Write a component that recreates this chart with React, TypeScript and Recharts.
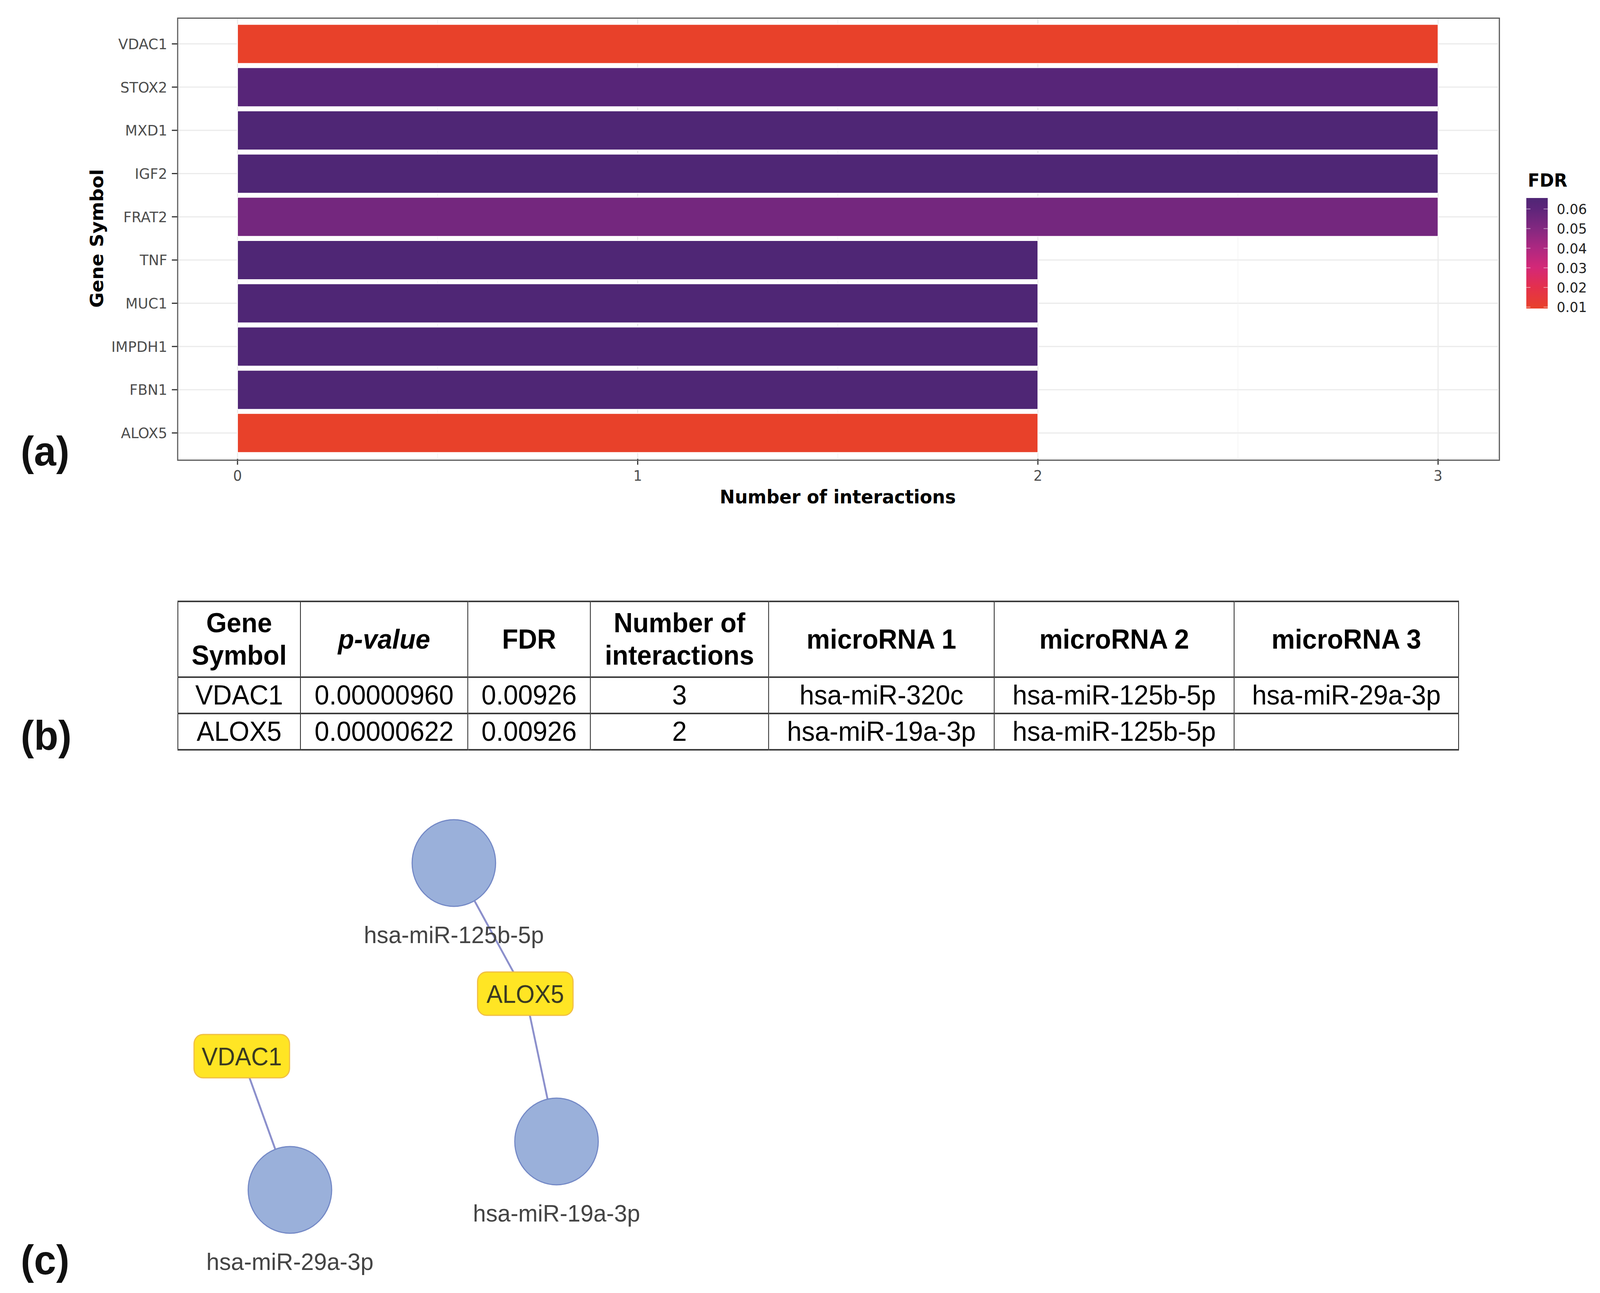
import React from 'react';
import { BarChart, Bar, XAxis, YAxis, CartesianGrid, Cell, ScatterChart, Scatter } from 'recharts';

// panel (a): genes, number of interactions, FDR
const genes = ['VDAC1', 'STOX2', 'MXD1', 'IGF2', 'FRAT2', 'TNF', 'MUC1', 'IMPDH1', 'FBN1', 'ALOX5'];
const interactions = [3, 3, 3, 3, 3, 2, 2, 2, 2, 2];
const fdr = [0.00926, 0.0625, 0.0656, 0.0656, 0.054, 0.0656, 0.0656, 0.0656, 0.0656, 0.00926];
const xTicks = [0, 1, 2, 3];
const xMinorTicks = [0.5, 1.5, 2.5];
const legendTicks = [0.01, 0.02, 0.03, 0.04, 0.05, 0.06];

// FDR colour scale
const scaleStops = [0.00926, 0.02, 0.03, 0.04, 0.05, 0.06, 0.0656];
const scaleColors = ['#E8412A', '#E4304C', '#D42877', '#AE2881', '#832880', '#5E257A', '#4F2675'];

// panel (b): table
const tableHeader = ['Gene\nSymbol', 'p-value', 'FDR', 'Number of\ninteractions', 'microRNA 1', 'microRNA 2', 'microRNA 3'];
const tableRows = [
  ['VDAC1', '0.00000960', '0.00926', '3', 'hsa-miR-320c', 'hsa-miR-125b-5p', 'hsa-miR-29a-3p'],
  ['ALOX5', '0.00000622', '0.00926', '2', 'hsa-miR-19a-3p', 'hsa-miR-125b-5p', ''],
];

// panel (c): network nodes (layout coords) and edges
const geneIds = ['ALOX5', 'VDAC1'];
const geneX = [997, 243];
const geneY = [495, 655];
const mirIds = ['hsa-miR-125b-5p', 'hsa-miR-19a-3p', 'hsa-miR-29a-3p'];
const mirX = [807, 1080, 371];
const mirY = [160, 873, 997];
const edges = [
  ['ALOX5', 'hsa-miR-125b-5p'],
  ['ALOX5', 'hsa-miR-19a-3p'],
  ['VDAC1', 'hsa-miR-29a-3p'],
];

const GG = '"DejaVu Sans", sans-serif';
const ARIAL = '"Liberation Sans", Arial, sans-serif';

const PAGE_W = 4255;
const PAGE_H = 3311;

const fdrMin = scaleStops[0];
const fdrMax = scaleStops[scaleStops.length - 1];

const toRgb = (c: string) => [1, 3, 5].map((i) => parseInt(c.slice(i, i + 2), 16));
const fdrColor = (v: number) => {
  let i = 0;
  while (i < scaleStops.length - 2 && v > scaleStops[i + 1]) i++;
  const t = Math.max(0, Math.min(1, (v - scaleStops[i]) / (scaleStops[i + 1] - scaleStops[i])));
  const a = toRgb(scaleColors[i]);
  const b = toRgb(scaleColors[i + 1]);
  const m = a.map((x, k) => Math.round(x + (b[k] - x) * t));
  return `rgb(${m[0]},${m[1]},${m[2]})`;
};

const barData = genes.map((g, i) => ({ gene: g, n: interactions[i], fdr: fdr[i] }));

const geneNodes = geneIds.map((id, i) => ({ id, x: geneX[i], y: geneY[i] }));
const mirNodes = mirIds.map((id, i) => ({ id, x: mirX[i], y: mirY[i] }));
const allNodes = [...geneNodes, ...mirNodes];
const nodeOf = (id: string) => allNodes.find((n) => n.id === id);

// plot area of panel (a)
const PLOT = { left: 472, top: 46, right: 3984, bottom: 1175 };

// colour legend geometry (top = highest FDR)
const LEG = { x: 4059, w: 57, top: 507, bottom: 790 };
const legY = (v: number) => LEG.top + ((fdrMax - v) / (fdrMax - fdrMin)) * (LEG.bottom - LEG.top);
const gradStops = scaleStops
  .map((s, i) => ({ offset: (fdrMax - s) / (fdrMax - fdrMin), color: scaleColors[i] }))
  .sort((a, b) => a.offset - b.offset);

const MirShape = (props: any) => {
  const { cx, cy, payload } = props;
  return (
    <g>
      <circle cx={cx} cy={cy} r={111} fill="#9AB0DA" stroke="#7489C6" strokeWidth={3} />
      <text x={cx} y={cy + 205} textAnchor="middle" fontFamily={ARIAL} fontSize={62} fill="#444">
        {payload.id}
      </text>
    </g>
  );
};

const GeneShape = (props: any) => {
  const { cx, cy, payload } = props;
  return (
    <g>
      <rect x={cx - 127} y={cy - 56} width={254} height={111} rx={24} fill="#FFE524" stroke="#F0BE45" strokeWidth={3} />
      <text x={cx} y={cy + 23} textAnchor="middle" fontFamily={ARIAL} fontSize={64} fill="#3A3A22">
        {payload.id}
      </text>
    </g>
  );
};

const cellBase: React.CSSProperties = {
  borderTop: '4px solid #3C3C3C',
  borderBottom: '4px solid #3C3C3C',
  borderLeft: '2px solid #1A1A1A',
  borderRight: '2px solid #1A1A1A',
  padding: 0,
  textAlign: 'center',
  verticalAlign: 'middle',
  whiteSpace: 'pre-line',
  lineHeight: 1.18,
};
const colWidths = [326, 445, 326, 474, 600, 638, 597];

const App = () => {
  // the window may be narrower than the figure; squeeze horizontally to fit
  const vw = typeof window !== 'undefined' ? window.innerWidth : PAGE_W;
  const sx = Math.min(1, vw / PAGE_W);
  return (
    <div style={{ width: Math.floor(PAGE_W * sx), height: PAGE_H, overflow: 'hidden', background: '#fff' }}>
      <style>{'html,body{margin:0;padding:0;overflow:hidden}'}</style>
      <div
        style={{
          position: 'relative',
          width: PAGE_W,
          height: PAGE_H,
          background: '#fff',
          transform: `scale(${sx}, 1)`,
          transformOrigin: '0 0',
        }}
      >
        {/* (a) bar chart */}
        <div style={{ position: 'absolute', left: 0, top: 0 }}>
          <BarChart
            width={PAGE_W}
            height={1320}
            data={barData}
            layout="vertical"
            margin={{ top: PLOT.top, right: PAGE_W - PLOT.right, left: 42, bottom: 35 }}
            barCategoryGap="5%"
          >
            <CartesianGrid stroke="#EBEBEB" strokeWidth={3} />
            <CartesianGrid xAxisId="minor" horizontal={false} stroke="#F1F1F1" strokeWidth={1.5} />
            <XAxis
              type="number"
              domain={[-0.15, 3.15]}
              ticks={xTicks}
              allowDataOverflow
              height={110}
              axisLine={false}
              tickSize={15}
              tickMargin={15}
              tickLine={{ stroke: '#333', strokeWidth: 3 }}
              tick={{ fontSize: 37, fill: '#4D4D4D', fontFamily: GG }}
              label={{
                value: 'Number of interactions',
                position: 'insideTop',
                offset: 80,
                fontSize: 48,
                fontWeight: 700,
                fill: '#000',
                fontFamily: GG,
              }}
            />
            <XAxis xAxisId="minor" type="number" domain={[-0.15, 3.15]} ticks={xMinorTicks} allowDataOverflow hide height={0} />
            <YAxis
              type="category"
              dataKey="gene"
              width={PLOT.left - 42}
              padding={{ top: 11, bottom: 11 }}
              axisLine={false}
              tickSize={15}
              tickMargin={12}
              tickLine={{ stroke: '#333', strokeWidth: 3 }}
              tick={{ fontSize: 38, fill: '#4D4D4D', fontFamily: GG }}
              label={{
                value: 'Gene Symbol',
                position: 'center',
                angle: -90,
                fontSize: 48,
                fontWeight: 700,
                fill: '#000',
                fontFamily: GG,
              }}
            />
            <Bar dataKey="n" isAnimationActive={false} stroke="#FFFFFF" strokeWidth={2}>
              {barData.map((d) => (
                <Cell key={d.gene} fill={fdrColor(d.fdr)} />
              ))}
            </Bar>
          </BarChart>
          {/* panel border */}
          <div
            style={{
              position: 'absolute',
              left: PLOT.left - 1.5,
              top: PLOT.top - 1.5,
              width: PLOT.right - PLOT.left,
              height: PLOT.bottom - PLOT.top,
              border: '3px solid #5E5E5E',
              pointerEvents: 'none',
            }}
          />
        </div>

        {/* colour legend and panel letters */}
        <svg width={PAGE_W} height={PAGE_H} style={{ position: 'absolute', left: 0, top: 0, pointerEvents: 'none' }}>
          <defs>
            <linearGradient id="fdrGrad" x1="0" y1="0" x2="0" y2="1">
              {gradStops.map((s, i) => (
                <stop key={i} offset={s.offset} stopColor={s.color} />
              ))}
            </linearGradient>
          </defs>
          <text x={4063} y={478} fontFamily={GG} fontSize={46} fontWeight={700} fill="#000">
            FDR
          </text>
          <rect x={LEG.x} y={LEG.top} width={LEG.w} height={LEG.bottom - LEG.top} fill="url(#fdrGrad)" />
          {legendTicks.map((t) => (
            <g key={t}>
              <line x1={LEG.x} x2={LEG.x + 11} y1={legY(t)} y2={legY(t)} stroke="#fff" strokeWidth={2} opacity={0.5} />
              <line x1={LEG.x + LEG.w - 11} x2={LEG.x + LEG.w} y1={legY(t)} y2={legY(t)} stroke="#fff" strokeWidth={2} opacity={0.5} />
              <text x={4140} y={legY(t)} dy="0.36em" fontFamily={GG} fontSize={36} fill="#222">
                {t.toFixed(2)}
              </text>
            </g>
          ))}
          <text x={55} y={1192} fontFamily={ARIAL} fontSize={106} fontWeight={700} fill="#111">(a)</text>
          <text x={55} y={1920} fontFamily={ARIAL} fontSize={106} fontWeight={700} fill="#111">(b)</text>
          <text x={55} y={3263} fontFamily={ARIAL} fontSize={106} fontWeight={700} fill="#111">(c)</text>
        </svg>

        {/* (b) table */}
        <table
          style={{
            position: 'absolute',
            left: 472,
            top: 1538,
            width: 3406,
            borderCollapse: 'collapse',
            tableLayout: 'fixed',
            fontFamily: ARIAL,
            fontSize: 70,
            color: '#000',
          }}
        >
          <colgroup>
            {colWidths.map((w, i) => (
              <col key={i} style={{ width: w }} />
            ))}
          </colgroup>
          <thead>
            <tr style={{ height: 194 }}>
              {tableHeader.map((h, i) => (
                <th key={i} style={{ ...cellBase, fontWeight: 700, fontStyle: i === 1 ? 'italic' : 'normal' }}>
                  {h}
                </th>
              ))}
            </tr>
          </thead>
          <tbody>
            {tableRows.map((r, ri) => (
              <tr key={ri} style={{ height: 93 }}>
                {r.map((c, ci) => (
                  <td key={ci} style={cellBase}>
                    {c}
                  </td>
                ))}
              </tr>
            ))}
          </tbody>
        </table>

        {/* (c) network */}
        <div style={{ position: 'absolute', left: 400, top: 2050 }}>
          <ScatterChart width={1500} height={1261} margin={{ top: 0, right: 0, bottom: 0, left: 0 }}>
            <XAxis type="number" dataKey="x" domain={[0, 1500]} hide height={0} />
            <YAxis type="number" dataKey="y" domain={[0, 1261]} reversed hide width={0} />
            {edges.map(([a, b]) => (
              <Scatter
                key={a + b}
                data={[nodeOf(a), nodeOf(b)]}
                line={{ stroke: '#8C90CC', strokeWidth: 5 }}
                shape={() => <g />}
                isAnimationActive={false}
              />
            ))}
            <Scatter data={mirNodes} shape={MirShape} isAnimationActive={false} />
            <Scatter data={geneNodes} shape={GeneShape} isAnimationActive={false} />
          </ScatterChart>
        </div>
      </div>
    </div>
  );
};

export default App;
